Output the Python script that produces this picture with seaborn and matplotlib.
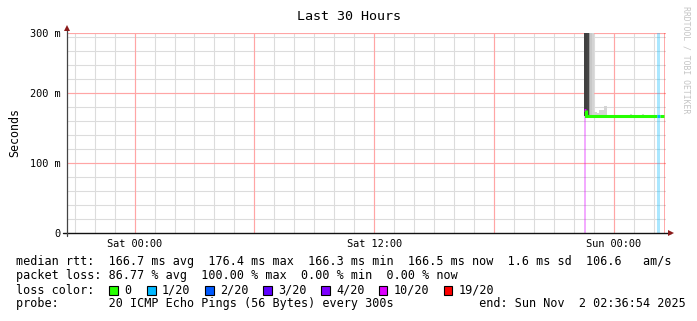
import numpy as np
import pandas as pd
import matplotlib
matplotlib.use("Agg")
import matplotlib.pyplot as plt
import matplotlib.dates as mdates
from matplotlib.patches import Rectangle
from matplotlib.ticker import MultipleLocator, FixedLocator
import seaborn as sns

# ---------------- data ----------------
title = "Last 30 Hours"
t_start = pd.Timestamp("2025-10-31 20:36:54")
t_end = pd.Timestamp("2025-11-02 02:36:54")
step = pd.Timedelta(minutes=5)

sample_end_times = pd.date_range("2025-11-01 22:35", "2025-11-02 02:35", freq="5min")
median_ms = [176.4, 166.6, 166.6, 166.6, 166.6, 166.6, 166.6, 166.6, 166.6, 166.6,
             166.6, 166.6, 166.6, 166.6, 166.6, 166.6, 166.6, 166.6, 166.6, 166.6,
             166.6, 166.6, 166.6, 166.6, 166.6, 166.6, 166.6, 166.6, 166.6, 166.6,
             166.6, 166.6, 166.6, 166.6, 166.6, 166.6, 166.6, 166.6, 166.6, 166.6,
             166.6, 166.6, 166.6, 166.6, 166.6, 166.6, 166.6, 166.6, np.nan]
loss_count = [10, 0, 0, 0, 0, 0, 0, 0, 0, 0,
              0, 0, 0, 0, 0, 0, 0, 0, 0, 0,
              0, 0, 0, 0, 0, 0, 0, 0, 0, 0,
              0, 0, 0, 0, 0, 0, 0, 0, 0, 0,
              0, 0, 0, 0, 1, 1, 0, 0, 19]
smoke_lo = [166.6] * 49
smoke_hi = [300, 300, 300, 300, 300, 300, 173.5, 173, 172, 175,
            176, 175.5, 181, 181.5, 166.6, 166.6, 166.6, 166.6, 166.6, 166.6,
            166.6, 166.6, 166.6, 166.6, 166.6, 166.6, 166.6, 166.6, 170.5, 166.6,
            166.6, 166.6, 166.6, 166.6, 166.6, 170.5, 166.6, 166.6, 166.6, 166.6,
            166.6, 166.6, 166.6, 166.6, 166.6, 166.6, 166.6, 166.6, 166.6]
smoke_shade = (["#404040", "#404040", "#454545", "#a0a0a0", "#c8c8c8", "#d4d4d4"]
               + ["#d4d4d4"] * 43)

loss_levels = [0, 1, 2, 3, 4, 10, 19]
loss_labels = ["0", "1/20", "2/20", "3/20", "4/20", "10/20", "19/20"]
loss_colors = ["#26ff00", "#00b8ff", "#0059ff", "#5e00ff", "#7e00ff", "#dd00ff", "#ff0000"]

y_top = 285.7
ytick_values = [0, 100, 200, y_top]
ytick_labels = ["0", "100 m", "200 m", "300 m"]
xtick_times = pd.to_datetime(["2025-11-01 00:00", "2025-11-01 06:00", "2025-11-01 12:00",
                              "2025-11-01 18:00", "2025-11-02 00:00"])
xtick_labels = ["Sat 00:00", "", "Sat 12:00", "", "Sun 00:00"]

legend_line_rtt = "median rtt:  166.7 ms avg  176.4 ms max  166.3 ms min  166.5 ms now  1.6 ms sd  106.6   am/s"
legend_line_loss = "packet loss: 86.77 % avg  100.00 % max  0.00 % min  0.00 % now"
legend_line_color = "loss color:"
legend_line_probe = "probe:       20 ICMP Echo Pings (56 Bytes) every 300s            end: Sun Nov  2 02:36:54 2025"
legend_row_y = [261, 275.5, 290, 303.5]
loss_box_x = [109, 147, 205, 263, 321, 379, 444]
watermark = "RRDTOOL / TOBI OETIKER"

# ---------------- style ----------------
sns.set_theme(style="white")
plt.rcParams["font.family"] = ["DejaVu Sans Mono"]

W, H = 697, 321
fig = plt.figure(figsize=(W / 100, H / 100), dpi=100, facecolor="white")
ax = fig.add_axes([67 / W, 88 / H, 599 / W, 200 / H])
ax.set_facecolor("white")


def color_for(loss):
    c = loss_colors[0]
    for lv, col in zip(loss_levels, loss_colors):
        if loss >= lv:
            c = col
    return c


df = pd.DataFrame({"end": sample_end_times, "median": median_ms, "loss": loss_count,
                   "lo": smoke_lo, "hi": smoke_hi, "shade": smoke_shade})
df["start"] = df["end"] - step
df["x0"] = mdates.date2num(df["start"])
df["x1"] = mdates.date2num(df["end"])
df["color"] = [color_for(l) for l in df["loss"]]
width_days = step / pd.Timedelta(days=1)

# axes limits & ticks
ax.set_xlim(mdates.date2num(t_start), mdates.date2num(t_end))
ax.set_ylim(0, y_top)
ax.set_yticks(ytick_values)
ax.set_yticklabels(ytick_labels)
ax.yaxis.set_minor_locator(MultipleLocator(20))
ax.set_xticks(mdates.date2num(xtick_times))
ax.set_xticklabels(xtick_labels)
hours = pd.date_range(t_start.ceil("h"), t_end.floor("h"), freq="h")
minor_hours = [h for h in hours if h.hour % 6 != 0]
ax.xaxis.set_minor_locator(FixedLocator(mdates.date2num(minor_hours)))

# grid (minor grey, major red) drawn explicitly
for h in minor_hours:
    ax.axvline(mdates.date2num(h), color="#dcdcdc", lw=0.8, zorder=0.5)
for v in np.arange(20, y_top, 20):
    if v % 100 != 0:
        ax.axhline(v, color="#dcdcdc", lw=0.8, zorder=0.5)
for t in xtick_times:
    ax.axvline(mdates.date2num(t), color="#ffa5a5", lw=0.85, zorder=0.6)
for v in ytick_values[1:]:
    ax.axhline(v, color="#ffa5a5", lw=0.85, zorder=0.6)

# loss background bands
for _, r in df[df["loss"] > 0].iterrows():
    ax.axvspan(r["x0"], r["x1"], color=r["color"], alpha=0.33, lw=0, zorder=1)

# smoke (only where it rises above the median)
sm = df[df["hi"] > df["lo"]]
ax.bar(sm["x0"], np.array(sm["hi"]) - np.array(sm["lo"]), bottom=sm["lo"], width=width_days,
       align="edge", color=sm["shade"], linewidth=0, zorder=2)

# median line coloured by loss: continuous step runs
valid = df[~df["median"].isna()].reset_index(drop=True)
run_id = (valid["color"] != valid["color"].shift()).cumsum()
prev_val = None
for _, run in valid.groupby(run_id):
    xs = list(run["x0"]) + [run["x1"].iloc[-1]]
    ys = list(run["median"]) + [run["median"].iloc[-1]]
    if prev_val is not None:
        xs = [xs[0]] + xs
        ys = [prev_val] + ys
    ax.plot(xs, ys, drawstyle="steps-post", color=run["color"].iloc[0], lw=2.2,
            solid_joinstyle="miter", solid_capstyle="butt", zorder=4)
    prev_val = run["median"].iloc[-1]

ax.tick_params(which="both", length=0)
ax.tick_params(axis="x", pad=4.5, labelsize=7.4, colors="#000000")
ax.tick_params(axis="y", pad=4.5, labelsize=7.4, colors="#000000")
for s in ax.spines.values():
    s.set_visible(False)

# axis lines with arrows
ax.plot([-0.007, 1.008], [0, 0], color="#111111", lw=1.0, transform=ax.transAxes,
        clip_on=False, zorder=6)
ax.plot([0, 0], [-0.015, 1.02], color="#444444", lw=0.9, transform=ax.transAxes,
        clip_on=False, zorder=6)
ax.plot(1.0085, 0, marker=">", ms=4, color="#8b1a1a", transform=ax.transAxes,
        clip_on=False, zorder=7, mew=0)
ax.plot(0, 1.025, marker="^", ms=4, color="#8b1a1a", transform=ax.transAxes,
        clip_on=False, zorder=7, mew=0)

ax.set_ylabel("")
fig.text(15 / W, 1 - 132 / H, "Seconds", rotation=90, ha="center", va="center",
         fontsize=8.4, color="#000000")
fig.text(349 / W, 1 - 16 / H, title, ha="center", va="center", fontsize=9.6, color="#000000")
fig.text(686 / W, 1 - 60 / H, watermark, rotation=270, ha="center", va="center",
         fontsize=5.9, color="#c4c4c4")

# legend
for txt, yy in zip([legend_line_rtt, legend_line_loss, legend_line_color, legend_line_probe],
                   legend_row_y):
    fig.text(16 / W, 1 - yy / H, txt, ha="left", va="center", fontsize=8.5, color="#000000")

for bx, lab, col in zip(loss_box_x, loss_labels, loss_colors):
    fig.patches.append(Rectangle((bx / W, 1 - 294.5 / H), 8.5 / W, 9 / H, transform=fig.transFigure,
                                 facecolor=col, edgecolor="#000000", lw=0.8))
    fig.text((bx + 15) / W, 1 - legend_row_y[2] / H, lab, ha="left", va="center",
             fontsize=8.5, color="#000000")

fig.savefig("out.png", dpi=100, facecolor="white")
